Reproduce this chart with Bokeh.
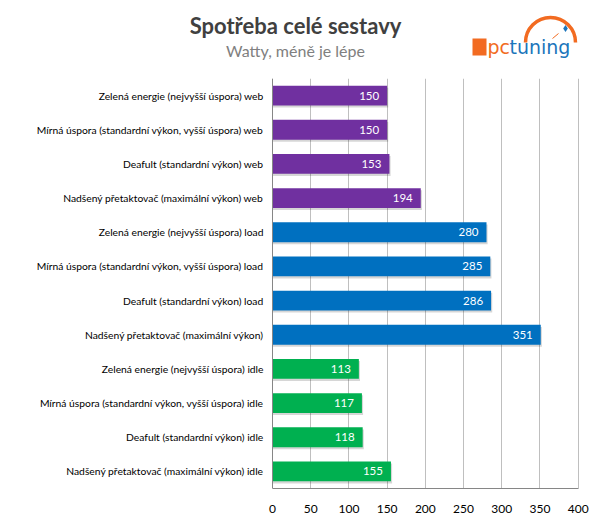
from bokeh.plotting import figure
from bokeh.layouts import column
from bokeh.models import Range1d, FactorRange, FixedTicker, ColumnDataSource
from bokeh.transform import dodge
from bokeh.core.properties import value
from bokeh.embed import file_html
from bokeh.resources import INLINE

title = "Spotřeba celé sestavy"
subtitle = "Watty, méně je lépe"

categories = [
    "Zelená energie (nejvyšší úspora) web",
    "Mírná úspora (standardní výkon, vyšší úspora) web",
    "Deafult (standardní výkon) web",
    "Nadšený přetaktovač (maximální výkon) web",
    "Zelená energie (nejvyšší úspora) load",
    "Mírná úspora (standardní výkon, vyšší úspora) load",
    "Deafult (standardní výkon) load",
    "Nadšený přetaktovač (maximální výkon)",
    "Zelená energie (nejvyšší úspora) idle",
    "Mírná úspora (standardní výkon, vyšší úspora) idle",
    "Deafult (standardní výkon) idle",
    "Nadšený přetaktovač (maximální výkon) idle",
]
values = [150, 150, 153, 194, 280, 285, 286, 351, 113, 117, 118, 155]
groups = ["web"] * 4 + ["load"] * 4 + ["idle"] * 4
group_colors = {"web": "#7030A0", "load": "#0070C0", "idle": "#00B050"}
x_ticks = [0, 50, 100, 150, 200, 250, 300, 350, 400]

FONT = "Lato"
W = 590            # canvas width (px)
AXIS_X = 272       # pixel position of value 0
PLOT_W = 305.7     # pixel length of the 0..400 value axis
HEAD_H = 78

# ---------- header (title + logo); pixel-based coordinates ----------
h = figure(width=W, height=HEAD_H, x_range=Range1d(0, W), y_range=Range1d(0, HEAD_H),
           title=None, output_backend="svg", toolbar_location=None,
           x_axis_location=None, y_axis_location=None, min_border=0)
h.grid.visible = False
h.outline_line_color = None

h.text(x=[295], y=[53.5], text=[title], text_align="center", text_baseline="alphabetic",
       text_font=value(FONT), text_font_style="bold", text_font_size="22px", text_color="#404040")
h.text(x=[295], y=[28.5], text=[subtitle], text_align="center", text_baseline="alphabetic",
       text_font=value(FONT), text_font_size="16px", text_color="#808080")
# logo
orange = "#F26B21"
blue = "#1B75BB"
h.quad(left=[472], right=[486], bottom=[23], top=[40], fill_color=orange, line_color=None)
h.arc(x=[550], y=[36], radius=[25], start_angle=[0.0], end_angle=[3.1416],
      line_color=orange, line_width=3.5)
h.segment(x0=[552], y0=[40], x1=[558], y1=[45], line_color=orange, line_width=1)
h.scatter(x=[565], y=[50], marker="diamond", size=7, fill_color=blue, line_color=None)
h.text(x=[487], y=[32], text=["pc"], text_align="left", text_baseline="alphabetic",
       text_font=value("DejaVu Sans"), text_font_size="19px", text_color=orange)
h.text(x=[509], y=[32], text=["tuning"], text_align="left", text_baseline="alphabetic",
       text_font=value("DejaVu Sans"), text_font_size="19px", text_color=blue)

# ---------- main chart ----------
src = ColumnDataSource(dict(
    cat=categories,
    val=values,
    color=[group_colors[g] for g in groups],
    lab=[str(v) for v in values],
))

span = x_ticks[-1] - x_ticks[0]
px = PLOT_W / span
x_start = x_ticks[0] - AXIS_X / px
x_end = x_ticks[0] + (W - AXIS_X) / px

p = figure(width=W, height=442, y_range=FactorRange(*reversed(categories)),
           x_range=Range1d(x_start, x_end), title=None,
           output_backend="svg", toolbar_location=None,
           min_border_left=0, min_border_right=0, min_border_top=0, min_border_bottom=32)
p.y_range.range_padding = 0
p.outline_line_color = None

# soft drop shadow
p.hbar(y=dodge("cat", -0.06, range=p.y_range), left=0, right=dodge("val", 1.5), height=0.58,
       source=src, fill_color="#000000", fill_alpha=0.16, line_color=None)
p.hbar(y="cat", left=0, right="val", height=0.58, source=src,
       fill_color="color", line_color=None)
p.text(x="val", y="cat", text="lab", source=src, x_offset=-8, text_align="right",
       text_baseline="middle", text_color="white", text_font=value(FONT), text_font_size="11.5px")

p.xaxis.ticker = FixedTicker(ticks=x_ticks)
p.xaxis.bounds = (x_ticks[0], x_ticks[-1])
p.xaxis.major_tick_in = 0
p.xaxis.major_tick_out = 0
p.xaxis.minor_tick_in = 0
p.xaxis.minor_tick_out = 0
p.xaxis.axis_line_color = "#868686"
p.xaxis.major_label_standoff = 16
p.xaxis.major_label_text_font = FONT
p.xaxis.major_label_text_font_size = "12px"
p.xaxis.major_label_text_color = "#000000"

p.yaxis.fixed_location = x_ticks[0]
p.yaxis.major_tick_in = 0
p.yaxis.major_tick_out = 0
p.yaxis.axis_line_color = "#868686"
p.yaxis.major_label_standoff = 9
p.yaxis.major_label_text_font = FONT
p.yaxis.major_label_text_font_size = "10.3px"
p.yaxis.major_label_text_color = "#000000"

p.xgrid.grid_line_color = "#BFBFBF"
p.xgrid.ticker = FixedTicker(ticks=x_ticks)
p.ygrid.grid_line_color = None

layout = column(h, p, spacing=0)
open("out.html", "w").write(file_html(layout, INLINE))
